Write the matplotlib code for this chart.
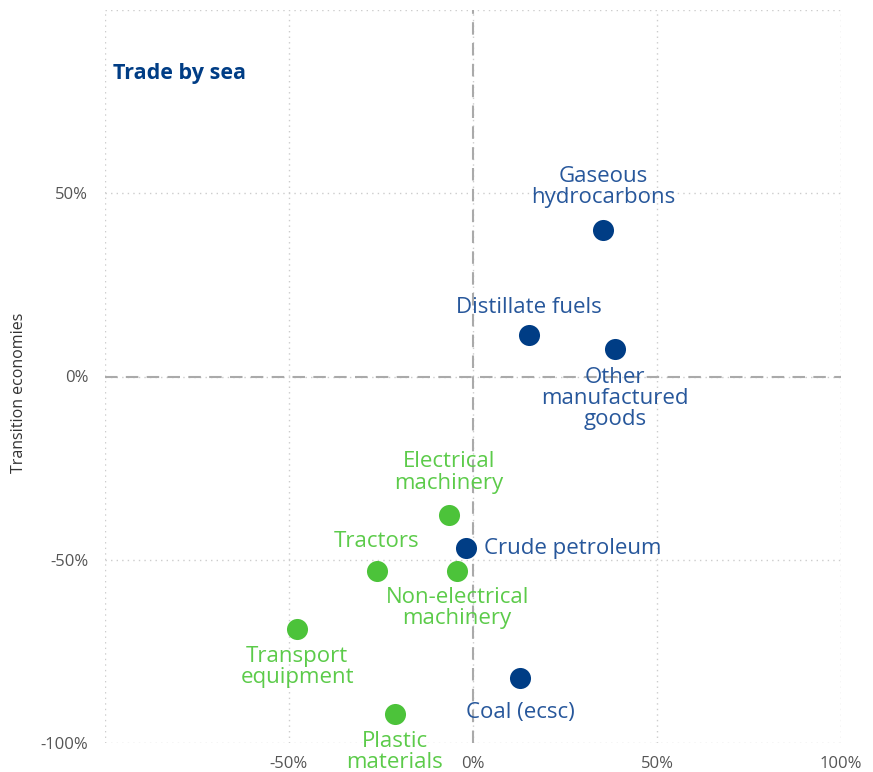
import matplotlib
matplotlib.use("Agg")
import matplotlib.pyplot as plt

plt.rcParams['font.family'] = ['Open Sans', 'DejaVu Sans']

names = ["Gaseous\nhydrocarbons", "Distillate fuels", "Other\nmanufactured\ngoods",
         "Crude petroleum", "Coal (ecsc)", "Electrical\nmachinery", "Tractors",
         "Non-electrical\nmachinery", "Transport\nequipment", "Plastic\nmaterials"]
x_vals = [35.3, 15.2, 38.6, -1.9, 12.8, -6.5, -26.1, -4.3, -47.8, -21.2]
y_vals = [40.0, 11.2, 7.6, -46.9, -82.3, -37.9, -53.1, -53.1, -68.9, -92.1]
groups = ["blue", "blue", "blue", "blue", "blue", "green", "green", "green", "green", "green"]

x_ticks = [-100, -50, 0, 50, 100]
x_tick_labels = ["", "-50%", "0%", "50%", "100%"]
y_ticks = [-100, -50, 0, 50, 100]
y_tick_labels = ["-100%", "-50%", "0%", "50%", ""]

point_colors = {"blue": "#003d85", "green": "#4cc33a"}
label_colors = {"blue": "#27579b", "green": "#5ccb4a"}
# label offsets in pixels and alignment
offsets = [(0, 43, 'center'), (0, 28, 'center'), (0, -50, 'center'), (18, 0, 'left'),
           (0, -34, 'center'), (0, 43, 'center'), (0, 30, 'center'), (0, -37, 'center'),
           (0, -38, 'center'), (0, -38, 'center')]

fig = plt.figure(figsize=(8.73, 7.72), dpi=100)
ax = fig.add_axes([105/873, 1-743/772, (841-105)/873, (743-10)/772])
ax.set_xlim(-100, 100)
ax.set_ylim(-100, 100)

for s in ax.spines.values():
    s.set_visible(False)

ax.set_xticks(x_ticks)
ax.set_xticklabels(x_tick_labels)
ax.set_yticks(y_ticks)
ax.set_yticklabels(y_tick_labels)
ax.tick_params(axis='both', length=0, labelsize=12, labelcolor='#555555')
ax.tick_params(axis='x', pad=9)
ax.tick_params(axis='y', pad=12)
ax.grid(True, color='#cccccc', linestyle=(0, (1, 3)), linewidth=1)
ax.set_axisbelow(True)

ax.axhline(0, color='#aaaaaa', linestyle=(0, (6, 4)), linewidth=1.5, zorder=1)
ax.axvline(0, color='#aaaaaa', linestyle=(0, (6, 4)), linewidth=1.5, zorder=1)

for n, xv, yv, g, (dx, dy, ha) in zip(names, x_vals, y_vals, groups, offsets):
    ax.scatter([xv], [yv], s=230, color=point_colors[g], zorder=3, linewidths=0)
    ax.annotate(n, (xv, yv), xytext=(dx, dy), textcoords='offset pixels',
                ha=ha, va='center', fontsize=16, color=label_colors[g],
                linespacing=1.02, zorder=4)

ax.text(8/736, 1-(73-10)/733, "Trade by sea", transform=ax.transAxes, fontsize=15.5,
        fontweight='bold', color='#003d85', ha='left', va='center')

ax.set_ylabel("Transition economies", fontsize=11.5, color='#333333')
ax.yaxis.set_label_coords(-78/736, (743-393)/733)

fig.savefig("out.png", dpi=100)
